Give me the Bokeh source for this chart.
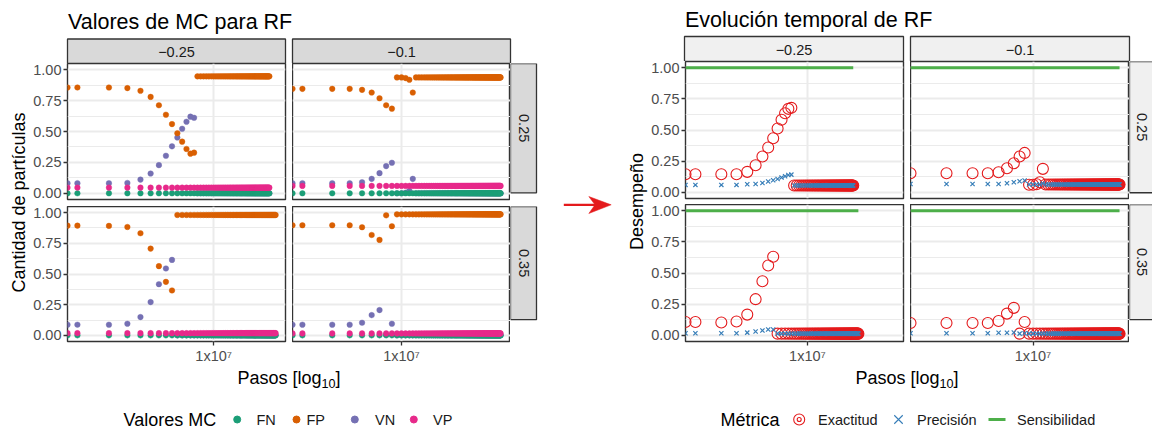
import math
from bokeh.plotting import figure
from bokeh.layouts import row, column
from bokeh.models import (Range1d, LinearAxis, LogAxis, FixedTicker, Grid,
                          NumeralTickFormatter, CustomJSTickFormatter)
from bokeh.core.properties import value
from bokeh.embed import file_html
from bokeh.resources import INLINE

FONT = "Liberation Sans"

# ---------------- data ----------------
# sampled steps (first sample is step 0, drawn at the panel edge like ggplot's -Inf)
PASOS_A = list(range(0, 39_000_001, 500_000))      # column -0.25
PASOS_B = list(range(0, 100_000_001, 1_000_000))   # column -0.1

COL_LABELS = ["\u22120.25", "\u22120.1"]
ROW_LABELS = ["0.25", "0.35"]
Y_TICKS = [0.0, 0.25, 0.5, 0.75, 1.0]
Y_MINOR = [0.125, 0.375, 0.625, 0.875]
X_TICKS = [1e7]

MC_NAMES = ["FN", "FP", "VN", "VP"]
MC_COLORS = ["#1B9E77", "#D95F02", "#7570B3", "#E7298A"]
MET_NAMES = ["Exactitud", "Precisi\u00f3n", "Sensibilidad"]
MET_COLORS = ["#E41A1C", "#377EB8", "#4DAF4A"]

# confusion-matrix fractions, panel (-0.25, 0.25)
FP_TL = [0.856, 0.856, 0.856, 0.851, 0.829, 0.780, 0.712, 0.636, 0.560, 0.486, 0.418, 0.359, 0.321, 0.329] + [0.946] * 55
VN_TL = [0.082, 0.082, 0.082, 0.084, 0.111, 0.160, 0.228, 0.304, 0.380, 0.451, 0.522, 0.579, 0.620, 0.611] + [0.0] * 55
VP_TL = [0.046] * 69
FN_TL = [0.0] * 69
# panel (-0.1, 0.25)
FP_TR = [0.845, 0.845, 0.845, 0.845, 0.837, 0.815, 0.769, 0.712, 0.685, 0.9375, 0.9375, 0.932, 0.918, 0.815] + [0.9375] * 87
VN_TR = [0.082, 0.082, 0.082, 0.082, 0.090, 0.117, 0.163, 0.220, 0.247, 0.0, 0.0, 0.005, 0.020, 0.117] + [0.0] * 87
VP_TR = [0.060] * 101
FN_TR = [0.0] * 101
# panel (-0.25, 0.35)
FP_BL = [0.894, 0.894, 0.892, 0.883, 0.832, 0.707, 0.564, 0.436, 0.366] + [0.981] * 70
VN_BL = [0.087, 0.087, 0.087, 0.095, 0.149, 0.271, 0.417, 0.545, 0.615] + [0.0] * 70
VP_BL = [0.018] * 79
FN_BL = [0.0] * 79
# panel (-0.1, 0.35)
FP_BR = [0.897, 0.897, 0.897, 0.897, 0.881, 0.818, 0.778, 0.978, 0.889] + [0.986] * 92
VN_BR = [0.087, 0.087, 0.087, 0.087, 0.103, 0.165, 0.206, 0.005, 0.095] + [0.0] * 92
VP_BR = [0.016] * 101
FN_BR = [0.0] * 101

# performance metrics
EX_TL = [0.145, 0.145, 0.145, 0.145, 0.164, 0.217, 0.287, 0.359, 0.434, 0.512, 0.582, 0.635, 0.670, 0.678] + [0.054] * 55
PR_TL = [0.059, 0.059, 0.059, 0.059, 0.064, 0.067, 0.075, 0.086, 0.097, 0.107, 0.118, 0.129, 0.139, 0.142] + [0.054] * 55
SE_TL = [1.0] * 69
EX_TR = [0.153, 0.153, 0.153, 0.153, 0.161, 0.193, 0.233, 0.287, 0.316, 0.060, 0.060, 0.065, 0.080, 0.188] + [0.062] * 87
PR_TR = [0.067, 0.067, 0.067, 0.067, 0.067, 0.072, 0.080, 0.088, 0.094, 0.062, 0.062, 0.062, 0.062, 0.070] + [0.062] * 87
SE_TR = [1.0] * 101
EX_BL = [0.107, 0.107, 0.102, 0.110, 0.166, 0.290, 0.434, 0.560, 0.630] + [0.013] * 70
PR_BL = [0.016, 0.016, 0.016, 0.016, 0.021, 0.030, 0.038, 0.046, 0.046] + [0.013] * 70
SE_BL = [1.0] * 79
EX_BR = [0.099, 0.099, 0.099, 0.099, 0.115, 0.174, 0.220, 0.013, 0.107] + [0.013] * 92
PR_BR = [0.016, 0.016, 0.016, 0.016, 0.020, 0.020, 0.022, 0.013, 0.016] + [0.013] * 92
SE_BR = [1.0] * 101

# ---------------- helpers ----------------
GRID_C = "#EBEBEB"
BORDER_C = "#333333"
TICK_C = "#4D4D4D"
STRIP_L = "#D9D9D9"
STRIP_R = "#F0F0F0"
RED = "#E41A1C"
LEG_Y = 52.0


def log_range(lists):
    pos = [x for xs in lists for x in xs if x > 0]
    lo, hi = math.log10(min(pos)), math.log10(max(pos))
    d = hi - lo
    return Range1d(10 ** (lo - 0.05 * d), 10 ** (hi + 0.05 * d))


def xs_of(pasos, n, rng):
    return [x if x > 0 else rng.start for x in pasos[:n]]


def deco(w, h):
    p = figure(width=w, height=h, x_range=Range1d(0, w), y_range=Range1d(h, 0),
               x_axis_location=None, y_axis_location=None, toolbar_location=None,
               output_backend="svg", min_border=0, title=None)
    p.xgrid.visible = False
    p.ygrid.visible = False
    p.outline_line_color = None
    p.background_fill_color = "white"
    p.border_fill_color = "white"
    return p


def txt(p, x, y, s, size, color="#000000", align="left", angle=0.0):
    # y is the vertical centre of the text line
    p.text(x=[x], y=[y], text=[s], text_font=value(FONT), text_font_size=value(size),
           text_color=color, text_align=align, text_baseline="middle", angle=angle)


def log_title(p, cx, cy, size=18):
    # "Pasos [log10]" with subscript
    w_main = 4.669 * size
    w_sub = 1.112 * size * 0.7
    w_br = 0.278 * size
    x0 = cx - (w_main + w_sub + w_br) / 2
    txt(p, x0 + w_main, cy, "Pasos [log", f"{size}px", align="right")
    txt(p, x0 + w_main, cy + 5.5, "10", f"{size * 0.7:.1f}px")
    txt(p, x0 + w_main + w_sub, cy, "]", f"{size}px")


def panel(xr, w, h, ml, mr, mb, yaxis, xaxis):
    p = figure(width=w, height=h, x_axis_type="log", x_range=xr, y_range=Range1d(-0.05, 1.05),
               x_axis_location=None, y_axis_location=None, toolbar_location=None,
               output_backend="svg", min_border=0, min_border_left=ml, min_border_right=mr,
               min_border_bottom=mb, min_border_top=0, title=None)
    p.xgrid.visible = False
    p.ygrid.visible = False
    p.background_fill_color = "white"
    p.border_fill_color = "white"
    p.outline_line_color = BORDER_C
    p.outline_line_width = 1.4
    p.add_layout(Grid(dimension=1, ticker=FixedTicker(ticks=Y_TICKS, minor_ticks=Y_MINOR),
                      grid_line_color=GRID_C, grid_line_width=2,
                      minor_grid_line_color=GRID_C, minor_grid_line_width=1))
    p.add_layout(Grid(dimension=0, ticker=FixedTicker(ticks=X_TICKS),
                      grid_line_color=GRID_C, grid_line_width=2))
    common = dict(major_label_text_font=FONT, major_label_text_font_size="14.5px",
                  major_label_text_color=TICK_C, major_tick_out=4, major_tick_in=0,
                  major_tick_line_color=BORDER_C, major_tick_line_width=1.3,
                  minor_tick_line_color=None, axis_line_color=None, major_label_standoff=2)
    if yaxis:
        p.add_layout(LinearAxis(ticker=FixedTicker(ticks=Y_TICKS),
                                formatter=NumeralTickFormatter(format="0.00"), **common), "left")
    if xaxis:
        fmt = CustomJSTickFormatter(code="""
            const e = Math.round(Math.log10(tick));
            const m = Math.round(tick / Math.pow(10, e));
            const sup = '\u2070\u00b9\u00b2\u00b3\u2074\u2075\u2076\u2077\u2078\u2079';
            let s = '';
            for (const c of String(e)) { s += sup[parseInt(c)]; }
            return m + 'x10' + s;
        """)
        p.add_layout(LogAxis(ticker=FixedTicker(ticks=X_TICKS), formatter=fmt, **common), "below")
    return p


def mc_panel(p, xs, fn, fp, vn, vp):
    # drawing order: VN, FN, FP, VP
    for ys, c in ((vn, MC_COLORS[2]), (fn, MC_COLORS[0]), (fp, MC_COLORS[1]), (vp, MC_COLORS[3])):
        p.scatter(xs, ys, marker="circle", size=5.6, fill_color=c, line_color=c, line_width=0.4)


def met_panel(p, xs, ex, pr, se):
    p.scatter(xs, ex, marker="circle", size=11, fill_color=None, line_color=MET_COLORS[0], line_width=1.1)
    p.scatter(xs, pr, marker="x", size=6, line_color=MET_COLORS[1], line_width=1.2)
    p.line(xs, se, line_color=MET_COLORS[2], line_width=3)


# ---------------- left chart: Valores de MC ----------------
xrA = log_range([PASOS_A[:69], PASOS_A[:79]])
xrB = log_range([PASOS_B, PASOS_B])

hdrL = deco(548, 63)
txt(hdrL, 67.5, 21.0, "Valores de MC para RF", "21.5px")
hdrL.quad(left=[67, 292], right=[285, 510], top=[38.5, 38.5], bottom=[63, 63],
          fill_color=STRIP_L, line_color=BORDER_C, line_width=1.3)
txt(hdrL, 176, 51.2, COL_LABELS[0], "14.5px", "#1A1A1A", align="center")
txt(hdrL, 401, 51.2, COL_LABELS[1], "14.5px", "#1A1A1A", align="center")

yTitleL = deco(30, 304)
txt(yTitleL, 18, 139, "Cantidad de part\u00edculas", "18px", align="center", angle=math.pi / 2)

TL = panel(xrA, 262, 143, 37, 7, 7, True, False)
mc_panel(TL, xs_of(PASOS_A, 69, xrA), FN_TL, FP_TL, VN_TL, VP_TL)
TR = panel(xrB, 218, 143, 0, 0, 7, False, False)
mc_panel(TR, xs_of(PASOS_B, 101, xrB), FN_TR, FP_TR, VN_TR, VP_TR)
sTopL = deco(38, 143)
sTopL.quad(left=[0], right=[26], top=[0], bottom=[136], fill_color=STRIP_L, line_color=BORDER_C, line_width=1.3)
txt(sTopL, 13, 68, ROW_LABELS[0], "14.5px", "#1A1A1A", align="center", angle=-math.pi / 2)

BL = panel(xrA, 262, 161, 37, 7, 26, True, True)
mc_panel(BL, xs_of(PASOS_A, 79, xrA), FN_BL, FP_BL, VN_BL, VP_BL)
BR = panel(xrB, 218, 161, 0, 0, 26, False, True)
mc_panel(BR, xs_of(PASOS_B, 101, xrB), FN_BR, FP_BR, VN_BR, VP_BR)
sBotL = deco(38, 161)
sBotL.quad(left=[0], right=[26], top=[0], bottom=[135], fill_color=STRIP_L, line_color=BORDER_C, line_width=1.3)
txt(sBotL, 13, 67.5, ROW_LABELS[1], "14.5px", "#1A1A1A", align="center", angle=-math.pi / 2)

footL = deco(548, 62)
log_title(footL, 288.5, 10.0)
txt(footL, 123, LEG_Y, "Valores MC", "18px")
for kx, lx, name, c in zip([236.7, 296, 354.3, 413.3], [256, 306, 374.5, 432.5], MC_NAMES, MC_COLORS):
    footL.scatter([kx], [LEG_Y], marker="circle", size=7, fill_color=c, line_color=c)
    txt(footL, lx, LEG_Y, name, "14.5px", "#1A1A1A")

left_block = column(hdrL,
                    row(yTitleL, column(row(TL, TR, sTopL), row(BL, BR, sBotL))),
                    footL)

# ---------------- right chart: Evolucion temporal ----------------
xrR = log_range([PASOS_A[:79], PASOS_B])

hdrR = deco(604, 61)
txt(hdrR, 136.5, 19.0, "Evoluci\u00f3n temporal de RF", "21.5px")
hdrR.quad(left=[136, 362], right=[355, 581], top=[36, 36], bottom=[61, 61],
          fill_color=STRIP_R, line_color=BORDER_C, line_width=1.3)
txt(hdrR, 245.5, 49.0, COL_LABELS[0], "14.5px", "#1A1A1A", align="center")
txt(hdrR, 471.5, 49.0, COL_LABELS[1], "14.5px", "#1A1A1A", align="center")

yTitleR = deco(100, 306)
yTitleR.line([15.3, 47], [143.3, 143.3], line_color=RED, line_width=2.2)
yTitleR.patch([62.7, 40.3, 46.5, 40.3], [143.3, 135.0, 143.3, 152.0], fill_color=RED, line_color=RED, line_width=0.5)
txt(yTitleR, 88, 140, "Desempe\u00f1o", "18px", align="center", angle=math.pi / 2)

TLr = panel(xrR, 262, 143, 36, 7, 6, True, False)
met_panel(TLr, xs_of(PASOS_A, 69, xrR), EX_TL, PR_TL, SE_TL)
TRr = panel(xrR, 219, 143, 0, 0, 6, False, False)
met_panel(TRr, xs_of(PASOS_B, 101, xrR), EX_TR, PR_TR, SE_TR)
sTopR = deco(23, 143)
sTopR.quad(left=[0], right=[26], top=[0], bottom=[137], fill_color=STRIP_R, line_color=BORDER_C, line_width=1.3)
txt(sTopR, 12.5, 68.5, ROW_LABELS[0], "14.5px", "#1A1A1A", align="center", angle=-math.pi / 2)

BLr = panel(xrR, 262, 163, 36, 7, 26, True, True)
met_panel(BLr, xs_of(PASOS_A, 79, xrR), EX_BL, PR_BL, SE_BL)
BRr = panel(xrR, 219, 163, 0, 0, 26, False, True)
met_panel(BRr, xs_of(PASOS_B, 101, xrR), EX_BR, PR_BR, SE_BR)
sBotR = deco(23, 163)
sBotR.quad(left=[0], right=[26], top=[0], bottom=[137], fill_color=STRIP_R, line_color=BORDER_C, line_width=1.3)
txt(sBotR, 12.5, 68.5, ROW_LABELS[1], "14.5px", "#1A1A1A", align="center", angle=-math.pi / 2)

footR = deco(604, 62)
log_title(footR, 358.5, 10.0)
txt(footR, 172, LEG_Y, "M\u00e9trica", "18px")
footR.scatter([250.7], [LEG_Y], marker="circle", size=11, fill_color=None, line_color=MET_COLORS[0], line_width=1.1)
footR.scatter([250.7], [LEG_Y], marker="circle", size=4, fill_color=None, line_color=MET_COLORS[0], line_width=1.1)
txt(footR, 269.5, LEG_Y, MET_NAMES[0], "14.5px", "#1A1A1A")
footR.scatter([350], [LEG_Y], marker="x", size=12, line_color=MET_COLORS[1], line_width=1.1)
txt(footR, 368.5, LEG_Y, MET_NAMES[1], "14.5px", "#1A1A1A")
footR.line([440, 457], [LEG_Y, LEG_Y], line_color=MET_COLORS[2], line_width=3)
txt(footR, 468.5, LEG_Y, MET_NAMES[2], "14.5px", "#1A1A1A")

right_block = column(hdrR,
                     row(yTitleR, column(row(TLr, TRr, sTopR), row(BLr, BRr, sBotR))),
                     footR)

root = row(left_block, right_block)

with open("out.html", "w", encoding="utf-8") as f:
    f.write(file_html(root, INLINE, title="Valores de MC y evolución temporal de RF"))
